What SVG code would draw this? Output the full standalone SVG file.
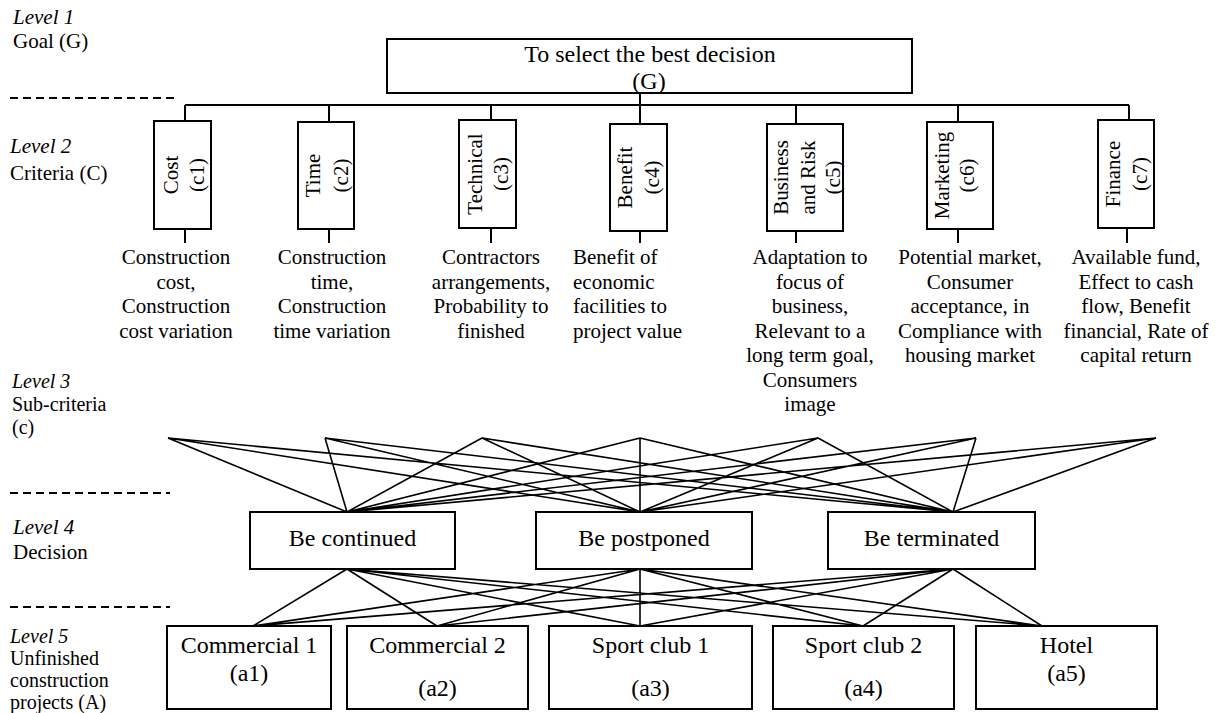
<svg xmlns="http://www.w3.org/2000/svg" width="1223" height="713" viewBox="0 0 1223 713">
<style>
text{font-family:"Liberation Serif","Times New Roman",serif;fill:#000}
.lbl{font-size:21px}
.sm{font-size:20px}
.it{font-style:italic}
.sub{font-size:21px;text-anchor:middle}
.subl{font-size:21px}
.bx{fill:#fff;stroke:#000;stroke-width:2}
.big{font-size:24px;text-anchor:middle}
.rot{font-size:21px;text-anchor:middle}
.ln{stroke:#000;stroke-width:2;fill:none}
.fan{stroke:#000;stroke-width:1.6;fill:none}
.dash{stroke:#000;stroke-width:2;stroke-dasharray:8 5;fill:none}
</style>
<rect width="1223" height="713" fill="#fff"/>
<g id="levels">
<text class="lbl it" x="13" y="24">Level 1</text>
<text class="lbl" x="13" y="48">Goal (G)</text>
<text class="lbl it" x="10" y="153">Level 2</text>
<text class="lbl" x="10" y="180">Criteria (C)</text>
<text class="sm it" x="12" y="388">Level 3</text>
<text class="sm" x="12" y="411">Sub-criteria</text>
<text class="sm" x="12" y="434">(c)</text>
<text class="lbl it" x="13" y="534">Level 4</text>
<text class="lbl" x="13" y="559">Decision</text>
<text class="sm it" x="10" y="643">Level 5</text>
<text class="sm" x="10" y="665">Unfinished</text>
<text class="sm" x="10" y="687">construction</text>
<text class="sm" x="10" y="709">projects (A)</text>
<path class="dash" d="M10 98H178M10 493H170M10 607H170"/>
</g>
<g id="connectors">
<path class="ln" d="M640 93V105M185 105H1129M185 105V121M329 105V122M491 105V120M640 105V124M796 105V124M958 105V122M1129 105V120"/>
<path class="ln" d="M185 229V243M329 229V243M491 228V243M640 231V243M796 231V243M958 229V243M1127 228V243"/>
<path class="fan" d="M168 438L347 512M168 438L640 512M168 438L953 512M325 438L347 512M325 438L640 512M325 438L953 512M482 438L347 512M482 438L640 512M482 438L953 512M640 438L347 512M640 438L640 512M640 438L953 512M818 438L347 512M818 438L640 512M818 438L953 512M976 438L347 512M976 438L640 512M976 438L953 512M1156 438L347 512M1156 438L640 512M1156 438L953 512"/>
<path class="fan" d="M347 569L253 626M347 569L437 626M347 569L640 626M347 569L863 626M347 569L1042 626M640 569L253 626M640 569L437 626M640 569L640 626M640 569L863 626M640 569L1042 626M953 569L253 626M953 569L437 626M953 569L640 626M953 569L863 626M953 569L1042 626"/>
</g>
<g id="goal">
<rect class="bx" x="387" y="39" width="525" height="54"/>
<text class="big" x="650" y="62">To select the best decision</text>
<text class="big" x="649" y="89">(G)</text>
</g>
<g id="c1">
<rect class="bx" x="154" y="121" width="57" height="108"/>
<g transform="translate(182.5,175) rotate(-90)"><text class="rot" y="-5">Cost</text><text class="rot" y="21.5">(c1)</text></g>
</g>
<g id="c2">
<rect class="bx" x="298" y="122" width="56" height="107"/>
<g transform="translate(326,175.5) rotate(-90)"><text class="rot" y="-6">Time</text><text class="rot" y="22">(c2)</text></g>
</g>
<g id="c3">
<rect class="bx" x="459" y="120" width="57" height="108"/>
<g transform="translate(487.5,174) rotate(-90)"><text class="rot" y="-5.5">Technical</text><text class="rot" y="20.5">(c3)</text></g>
</g>
<g id="c4">
<rect class="bx" x="610" y="124" width="57" height="107"/>
<g transform="translate(638.5,177.5) rotate(-90)"><text class="rot" y="-6.5">Benefit</text><text class="rot" y="20">(c4)</text></g>
</g>
<g id="c5">
<rect class="bx" x="767" y="124" width="76" height="107"/>
<g transform="translate(805,177.5) rotate(-90)"><text class="rot" y="-17">Business</text><text class="rot" y="10">and Risk</text><text class="rot" y="35">(c5)</text></g>
</g>
<g id="c6">
<rect class="bx" x="927" y="122" width="66" height="107"/>
<g transform="translate(960,175.5) rotate(-90)"><text class="rot" y="-11">Marketing</text><text class="rot" y="14">(c6)</text></g>
</g>
<g id="c7">
<rect class="bx" x="1098" y="120" width="56" height="108"/>
<g transform="translate(1126,174) rotate(-90)"><text class="rot" y="-6">Finance</text><text class="rot" y="21">(c7)</text></g>
</g>
<g id="sub1">
<text class="sub" x="176" y="264">Construction</text>
<text class="sub" x="176" y="288.5">cost,</text>
<text class="sub" x="176" y="313">Construction</text>
<text class="sub" x="176" y="337.5">cost variation</text>
</g>
<g id="sub2">
<text class="sub" x="332" y="264">Construction</text>
<text class="sub" x="332" y="288.5">time,</text>
<text class="sub" x="332" y="313">Construction</text>
<text class="sub" x="332" y="337.5">time variation</text>
</g>
<g id="sub3">
<text class="sub" x="491" y="264">Contractors</text>
<text class="sub" x="491" y="288.5">arrangements,</text>
<text class="sub" x="491" y="313">Probability to</text>
<text class="sub" x="491" y="337.5">finished</text>
</g>
<g id="sub4">
<text class="subl" x="573" y="264">Benefit of</text>
<text class="subl" x="573" y="288.5">economic</text>
<text class="subl" x="573" y="313">facilities to</text>
<text class="subl" x="573" y="337.5">project value</text>
</g>
<g id="sub5">
<text class="sub" x="810" y="264">Adaptation to</text>
<text class="sub" x="810" y="288.5">focus of</text>
<text class="sub" x="810" y="313">business,</text>
<text class="sub" x="810" y="337.5">Relevant to a</text>
<text class="sub" x="810" y="362">long term goal,</text>
<text class="sub" x="810" y="386.5">Consumers</text>
<text class="sub" x="810" y="411">image</text>
</g>
<g id="sub6">
<text class="sub" x="970" y="264">Potential market,</text>
<text class="sub" x="970" y="288.5">Consumer</text>
<text class="sub" x="970" y="313">acceptance, in</text>
<text class="sub" x="970" y="337.5">Compliance with</text>
<text class="sub" x="970" y="362">housing market</text>
</g>
<g id="sub7">
<text class="sub" x="1136" y="264">Available fund,</text>
<text class="sub" x="1136" y="288.5">Effect to cash</text>
<text class="sub" x="1136" y="313">flow, Benefit</text>
<text class="sub" x="1136" y="337.5">financial, Rate of</text>
<text class="sub" x="1136" y="362">capital return</text>
</g>
<g id="d1">
<rect class="bx" x="250" y="512" width="205" height="57"/>
<text class="big" x="352.5" y="546">Be continued</text>
</g>
<g id="d2">
<rect class="bx" x="536" y="512" width="216" height="57"/>
<text class="big" x="644" y="546">Be postponed</text>
</g>
<g id="d3">
<rect class="bx" x="828" y="512" width="207" height="57"/>
<text class="big" x="931.5" y="546">Be terminated</text>
</g>
<g id="a1">
<rect class="bx" x="167" y="626" width="164" height="83"/>
<text class="big" x="249" y="653">Commercial 1</text>
<text class="big" x="249" y="681">(a1)</text>
</g>
<g id="a2">
<rect class="bx" x="347" y="626" width="181" height="83"/>
<text class="big" x="437.5" y="653">Commercial 2</text>
<text class="big" x="437.5" y="696">(a2)</text>
</g>
<g id="a3">
<rect class="bx" x="549" y="626" width="203" height="83"/>
<text class="big" x="650.5" y="653">Sport club 1</text>
<text class="big" x="650.5" y="696">(a3)</text>
</g>
<g id="a4">
<rect class="bx" x="773" y="626" width="181" height="83"/>
<text class="big" x="863.5" y="653">Sport club 2</text>
<text class="big" x="863.5" y="696">(a4)</text>
</g>
<g id="a5">
<rect class="bx" x="976" y="626" width="181" height="83"/>
<text class="big" x="1066.5" y="653">Hotel</text>
<text class="big" x="1066.5" y="681">(a5)</text>
</g>
</svg>
